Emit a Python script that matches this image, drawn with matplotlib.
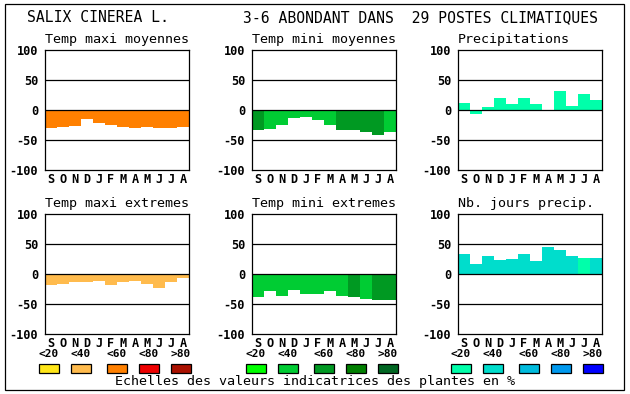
import matplotlib.pyplot as plt
from matplotlib.patches import Rectangle

# month letters (Sept -> Aug)
months = ['S', 'O', 'N', 'D', 'J', 'F', 'M', 'A', 'M', 'J', 'J', 'A']

# values
maxi_moy = [-30, -28, -26, -15, -21, -25, -28, -30, -28, -30, -30, -28]
mini_moy = [-33, -31, -25, -13, -11, -16, -25, -34, -33, -36, -41, -36]
precip = [11, -6, 5, 20, 10, 20, 10, 0, 32, 6, 26, 17]
maxi_ext = [-18, -16, -14, -13, -11, -18, -14, -11, -16, -23, -13, -6]
mini_ext = [-38, -28, -36, -26, -33, -33, -28, -36, -38, -41, -43, -44]
jours_precip = [34, 17, 30, 24, 25, 34, 22, 45, 40, 30, 27, 27]

# colour class index per bar (0:<20 1:<40 2:<60 3:<80 4:>80)
cls_maxi_moy = [2] * 12
cls_mini_moy = [2, 1, 1, 1, 1, 1, 1, 2, 2, 2, 2, 1]
cls_precip = [0] * 12
cls_maxi_ext = [1] * 12
cls_mini_ext = [1, 1, 1, 1, 1, 1, 1, 1, 2, 1, 2, 2]
cls_jours = [1, 1, 1, 1, 1, 1, 1, 1, 1, 1, 0, 1]

warm = ['#ffe619', '#ffbb4d', '#ff8000', '#ee0000', '#aa1100']
green = ['#00ff00', '#00cc33', '#009922', '#007f00', '#006622']
blue = ['#00ffaa', '#00ddcc', '#00bbdd', '#0099ee', '#0000ff']
classes = ['<20', '<40', '<60', '<80', '>80']

W, H = 630, 394
fig = plt.figure(figsize=(W / 100, H / 100), dpi=100)
mono = 'DejaVu Sans Mono'

panels = [
    ('Temp maxi moyennes', maxi_moy, cls_maxi_moy, warm, 45, 50),
    ('Temp mini moyennes', mini_moy, cls_mini_moy, green, 252, 50),
    ('Precipitations', precip, cls_precip, blue, 458, 50),
    ('Temp maxi extremes', maxi_ext, cls_maxi_ext, warm, 45, 214),
    ('Temp mini extremes', mini_ext, cls_mini_ext, green, 252, 214),
    ('Nb. jours precip.', jours_precip, cls_jours, blue, 458, 214),
]

for title, vals, cls, pal, x0, y0 in panels:
    ax = fig.add_axes([x0 / W, 1 - (y0 + 120) / H, 144 / W, 120 / H])
    xs = range(len(months))
    ax.bar(xs, vals, width=1.0, color=[pal[c] for c in cls], linewidth=0, zorder=2)
    for yv in (50, -50):
        ax.axhline(yv, color='black', lw=0.9, zorder=1)
    ax.axhline(0, color='black', lw=0.9, zorder=3)
    ax.set_xlim(-0.5, 11.5)
    ax.set_ylim(-100, 100)
    ax.set_yticks([100, 50, 0, -50, -100])
    ax.set_yticklabels(['100', '50', '0', '-50', '-100'], family=mono,
                       fontweight='bold', fontsize=8.6)
    ax.set_xticks(list(xs))
    ax.set_xticklabels(months, family=mono, fontweight='bold', fontsize=8.6)
    ax.tick_params(length=0, pad=2)
    ax.tick_params(axis='y', pad=5)
    for s in ax.spines.values():
        s.set_linewidth(0.9)
    fig.text(x0 / W, 1 - (y0 - 11) / H, title, family=mono, fontsize=9.6,
             ha='left', va='center')

# header
fig.text(27 / W, 1 - 18 / H, 'SALIX CINEREA L.', family=mono, fontsize=10.6,
         ha='left', va='center')
fig.text(243 / W, 1 - 18 / H, '3-6 ABONDANT DANS  29 POSTES CLIMATIQUES',
         family=mono, fontsize=10.6, ha='left', va='center')

# colour scales
offsets = [0, 32, 68, 100, 132]
for gx, pal in [(39, warm), (246, green), (451, blue)]:
    for off, lab, col in zip(offsets, classes, pal):
        fig.text((gx + off + 10) / W, 1 - 354 / H, lab, family=mono,
                 fontweight='bold', fontsize=8, ha='center', va='center')
        fig.patches.append(Rectangle(((gx + off) / W, 1 - 373 / H), 20 / W, 9 / H,
                                     transform=fig.transFigure, facecolor=col,
                                     edgecolor='black', lw=0.9))

fig.text(315 / W, 1 - 382 / H, 'Echelles des valeurs indicatrices des plantes en %',
         family=mono, fontsize=9.6, ha='center', va='center')

# outer frame
fig.patches.append(Rectangle((5 / W, 1 - 390 / H), 619 / W, 386 / H,
                             transform=fig.transFigure, fill=False,
                             edgecolor='black', lw=0.9))

fig.savefig('out.png', dpi=100)
